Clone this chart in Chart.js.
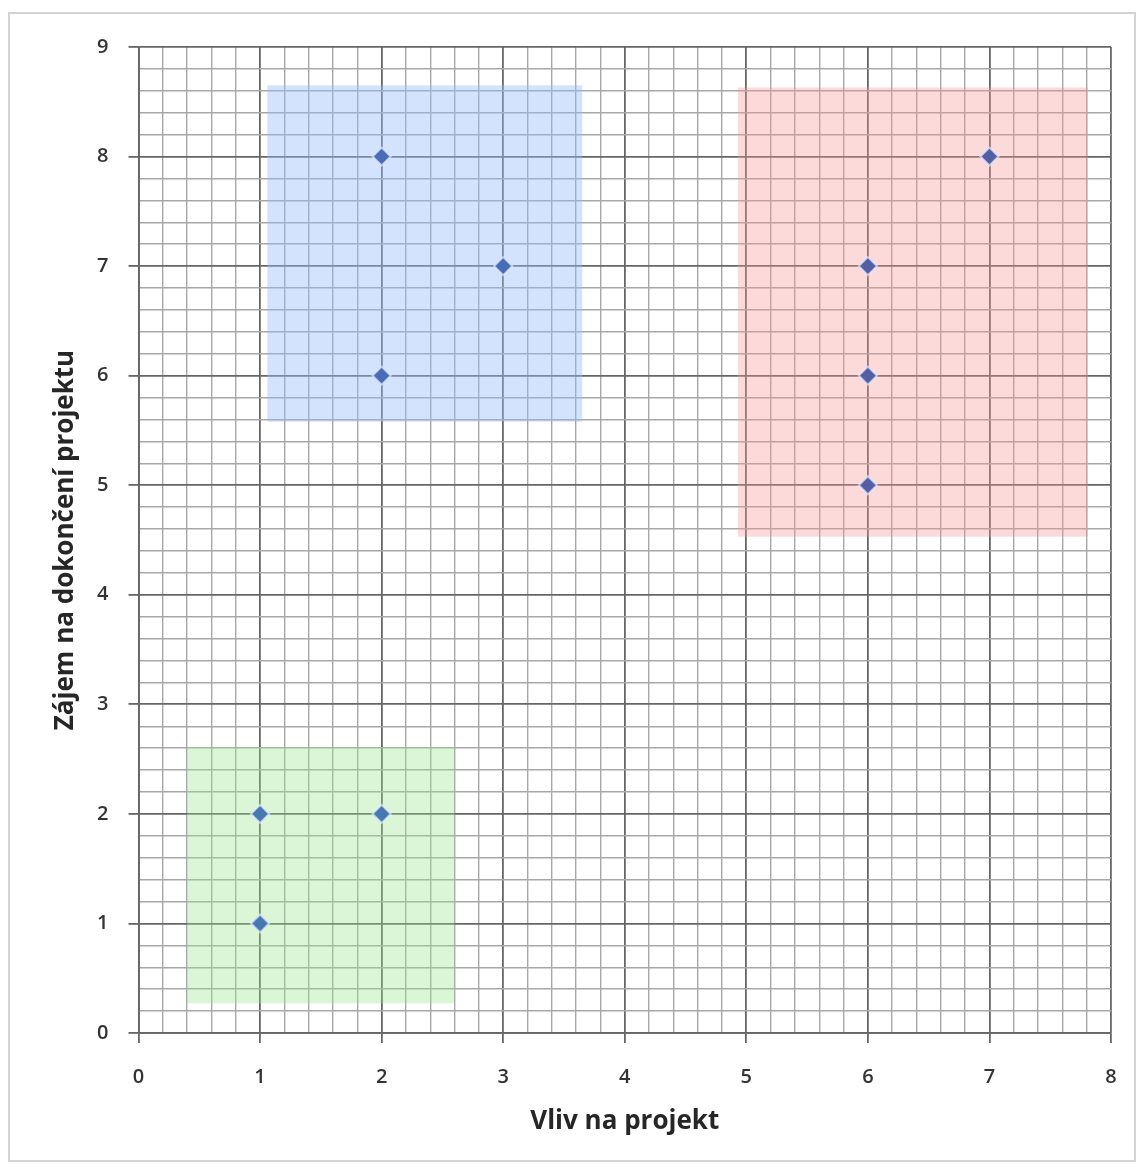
<!DOCTYPE html>
<html>
<head>
<meta charset="utf-8">
<script src="https://cdn.jsdelivr.net/npm/chart.js@4.4.1/dist/chart.umd.min.js"></script>
<style>
  html, body { margin: 0; padding: 0; background: #fff; }
  #wrap { position: relative; width: 1142px; height: 1172px; }
  #frame { position: absolute; left: 8px; top: 12px; width: 1128px; height: 1150px;
           border: 2px solid #d4d4d4; box-sizing: border-box; pointer-events: none; }
  canvas { position: absolute; left: 0; top: 0; }
</style>
</head>
<body>
<div id="wrap">
  <canvas id="chart" width="1142" height="1172"></canvas>
  <div id="frame"></div>
</div>
<script>
// points (Vliv, Zájem) per group
const blueX = [2, 3, 2];
const blueY = [8, 7, 6];
const redX = [7, 6, 6, 6];
const redY = [8, 7, 6, 5];
const greenX = [1, 2, 1];
const greenY = [2, 2, 1];

// shaded zones behind the points
const zoneX1 = [1.06, 4.93, 0.40];
const zoneX2 = [3.65, 7.81, 2.60];
const zoneY1 = [5.58, 4.53, 0.27];
const zoneY2 = [8.65, 8.63, 2.61];

const xTitle = 'Vliv na projekt';
const yTitle = 'Zájem na dokončení projektu';

const zoneFill = ['rgba(150,185,250,0.42)', 'rgba(245,150,150,0.35)', 'rgba(150,230,140,0.35)'];

const toPoints = (xs, ys) => xs.map((x, i) => ({ x: x, y: ys[i] }));
const isMajor = v => Math.abs(v - Math.round(v)) < 1e-6;

const zonePlugin = {
  id: 'zones',
  beforeDatasetsDraw(chart) {
    const { ctx, scales: { x, y } } = chart;
    ctx.save();
    zoneX1.forEach((x1, i) => {
      const left = x.getPixelForValue(x1);
      const right = x.getPixelForValue(zoneX2[i]);
      const top = y.getPixelForValue(zoneY2[i]);
      const bottom = y.getPixelForValue(zoneY1[i]);
      ctx.fillStyle = zoneFill[i];
      ctx.fillRect(left, top, right - left, bottom - top);
    });
    ctx.restore();
  }
};

const pointStyle = {
  pointStyle: 'rectRot',
  pointRadius: 9,
  pointBackgroundColor: '#486cb8',
  pointBorderColor: 'rgba(225,235,255,0.7)',
  pointBorderWidth: 2,
  showLine: false
};

const gridOpts = {
  color: ctx => isMajor(ctx.tick.value) ? '#666666' : '#a8a8a8',
  lineWidth: ctx => isMajor(ctx.tick.value) ? 1.8 : 1.4,
  tickColor: ctx => isMajor(ctx.tick.value) ? '#666666' : 'rgba(0,0,0,0)',
  tickLength: 10
};

const tickFont = { family: 'Open Sans', size: 20, weight: '600' };
const titleFont = { family: 'Open Sans', size: 26, weight: 'bold' };

new Chart(document.getElementById('chart'), {
  type: 'scatter',
  data: {
    datasets: [
      { data: toPoints(blueX, blueY), ...pointStyle },
      { data: toPoints(redX, redY), ...pointStyle, pointBackgroundColor: '#545ea4' },
      { data: toPoints(greenX, greenY), ...pointStyle, pointBackgroundColor: '#4878b0' }
    ]
  },
  options: {
    responsive: false,
    animation: false,
    layout: { padding: { left: 50.4, top: 47, right: 31, bottom: 34.4 } },
    plugins: { legend: { display: false }, tooltip: { enabled: false } },
    scales: {
      x: {
        type: 'linear', min: 0, max: 8,
        afterFit: axis => { axis.height = 104.6; },
        border: { color: '#666666', width: 1.8 },
        grid: gridOpts,
        ticks: {
          stepSize: 0.2, autoSkip: false, maxRotation: 0, padding: 22,
          color: '#333333', font: tickFont,
          callback: v => isMajor(v) ? String(Math.round(v)) : ''
        },
        title: { display: true, text: xTitle, color: '#262626', font: titleFont, padding: 0 }
      },
      y: {
        type: 'linear', min: 0, max: 9,
        afterFit: axis => { axis.width = 88.1; },
        border: { color: '#666666', width: 1.8 },
        grid: gridOpts,
        ticks: {
          stepSize: 0.2, autoSkip: false, padding: 20,
          color: '#333333', font: tickFont,
          callback: v => isMajor(v) ? String(Math.round(v)) : ''
        },
        title: { display: true, text: yTitle, color: '#262626', font: titleFont, padding: 0 }
      }
    }
  },
  plugins: [zonePlugin]
});
</script>
</body>
</html>
